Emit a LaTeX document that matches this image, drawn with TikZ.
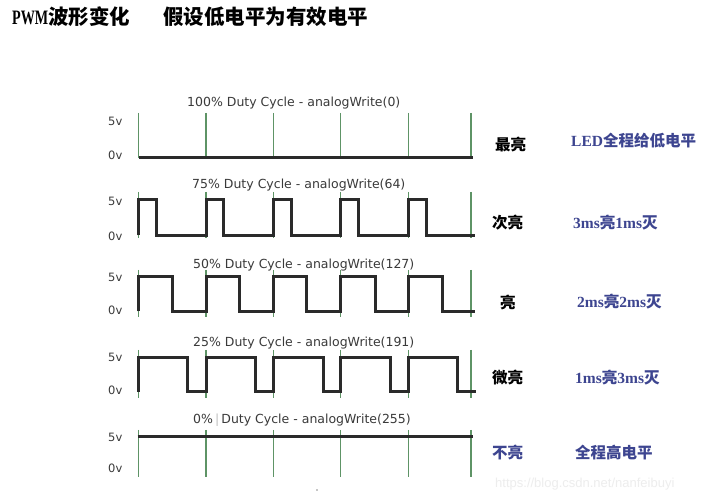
\documentclass[tikz,border=0pt]{standalone}
\usepackage{graphicx}
\usepackage{fontspec}
\setmainfont{Liberation Serif}
\newfontfamily\cjk{Noto Sans CJK SC}
\newfontfamily\dv{DejaVu Sans}
\newfontfamily\lsans{Liberation Sans}
\definecolor{gridgreen}{HTML}{5E9466}
\definecolor{wavec}{HTML}{2A2A2A}
\definecolor{lblue}{HTML}{3D4590}
\definecolor{dgray}{HTML}{3A3A3A}
\begin{document}
\begin{tikzpicture}[x=1pt,y=-1pt,
  gridline/.style={gridgreen, line width=1.2pt},
  wave/.style={wavec, line width=3pt, line join=miter},
  duty/.style={anchor=west, inner sep=0pt, font=\dv\fontsize{12.5}{14}\selectfont, text=dgray},
  volt/.style={anchor=west, inner sep=0pt, font=\dv\fontsize{11.5}{13}\selectfont, text=dgray},
  state/.style={anchor=west, inner sep=0pt, font=\cjk\bfseries\fontsize{15.5}{17}\selectfont},
  desc/.style={anchor=west, inner sep=0pt, text=lblue, font=\bfseries\fontsize{15.5}{17}\selectfont},
  titlet/.style={anchor=west, inner sep=0pt, font=\fontsize{20.5}{22}\selectfont}]
\useasboundingbox (0,0) rectangle (721,502);
\fill[white] (0,0) rectangle (721,502);

% title
\node[titlet] (t1) at (12,17) {\scalebox{0.69}[1]{\bfseries PWM}{\cjk\bfseries 波形变化}};
\node[titlet] (t2) at (163,17) {\cjk\bfseries 假设低电平为有效电平};

% grid lines
\foreach \x in {138.5,206,273.3,340.7,408.3,471}{
  \draw[gridline] (\x,113) -- (\x,158);
  \draw[gridline] (\x,192) -- (\x,238);
  \draw[gridline] (\x,270) -- (\x,317);
  \draw[gridline] (\x,350) -- (\x,398);
  \draw[gridline] (\x,430) -- (\x,477);
}

% row 1: 100%
\node[duty] (d1) at (187,103) {100\% Duty Cycle - analogWrite(0)};
\node[volt] (v1a) at (108,121) {5v};
\node[volt] (v1b) at (108,155) {0v};
\draw[wave] (138.5,157.5) -- (473,157.5);

% row 2: 75%
\node[duty] (d2) at (192,185) {75\% Duty Cycle - analogWrite(64)};
\node[volt] (v2a) at (108,201) {5v};
\node[volt] (v2b) at (108,236) {0v};
\draw[wave] (138.5,235.5) -- (138.5,200) -- (156,200) -- (156,235.5)
  -- (206,235.5) -- (206,200) -- (223.5,200) -- (223.5,235.5)
  -- (273.3,235.5) -- (273.3,200) -- (291,200) -- (291,235.5)
  -- (340.7,235.5) -- (340.7,200) -- (358.3,200) -- (358.3,235.5)
  -- (408.3,235.5) -- (408.3,200) -- (426,200) -- (426,235.5) -- (475,235.5);

% row 3: 50%
\node[duty] (d3) at (193,265) {50\% Duty Cycle - analogWrite(127)};
\node[volt] (v3a) at (108,277) {5v};
\node[volt] (v3b) at (108,310) {0v};
\draw[wave] (138.5,311.5) -- (138.5,276.5) -- (172,276.5) -- (172,311.5)
  -- (206,311.5) -- (206,276.5) -- (239.5,276.5) -- (239.5,311.5)
  -- (273.3,311.5) -- (273.3,276.5) -- (306.7,276.5) -- (306.7,311.5)
  -- (340.7,311.5) -- (340.7,276.5) -- (375,276.5) -- (375,311.5)
  -- (408.3,311.5) -- (408.3,276.5) -- (442.3,276.5) -- (442.3,311.5) -- (475,311.5);

% row 4: 25%
\node[duty] (d4) at (193,343) {25\% Duty Cycle - analogWrite(191)};
\node[volt] (v4a) at (108,357) {5v};
\node[volt] (v4b) at (108,390) {0v};
\draw[wave] (138.5,392) -- (138.5,357.5) -- (187.3,357.5) -- (187.3,391.5)
  -- (206,391.5) -- (206,357.5) -- (255.7,357.5) -- (255.7,391.5)
  -- (273.3,391.5) -- (273.3,357.5) -- (323.3,357.5) -- (323.3,391.5)
  -- (340.7,391.5) -- (340.7,357.5) -- (390.7,357.5) -- (390.7,391.5)
  -- (408.3,391.5) -- (408.3,357.5) -- (457.3,357.5) -- (457.3,391.5) -- (476,391.5);

% row 5: 0%
\node[duty] (d5) at (193,420) {0\%\,{\color{black!25}|}\,Duty Cycle - analogWrite(255)};
\node[volt] (v5a) at (108,437) {5v};
\node[volt] (v5b) at (108,468) {0v};
\draw[wave] (137.5,437) -- (473,437);
\fill[black!45] (317,490) circle (0.9);

% right labels
\node[state] (s1) at (495,145) {最亮};
\node[state] (s2) at (492,223) {次亮};
\node[state] (s3) at (500,303) {亮};
\node[state] (s4) at (492,378) {微亮};
\node[state, text=lblue] (s5) at (492,453) {不亮};

\node[desc] (e1) at (571,141) {LED{\cjk\bfseries 全程给低电平}};
\node[desc] (e2) at (573,223) {3ms{\cjk\bfseries 亮}1ms{\cjk\bfseries 灭}};
\node[desc] (e3) at (577,302) {2ms{\cjk\bfseries 亮}2ms{\cjk\bfseries 灭}};
\node[desc] (e4) at (575,378) {1ms{\cjk\bfseries 亮}3ms{\cjk\bfseries 灭}};
\node[desc] (e5) at (575,453) {{\cjk\bfseries 全程高电平}};

% watermark
\node[anchor=west, inner sep=0pt, text=black!7, font=\lsans\fontsize{13}{15}\selectfont] (wm) at (495,484) {https://blog.csdn.net/nanfeibuyi};
\end{tikzpicture}
\end{document}
